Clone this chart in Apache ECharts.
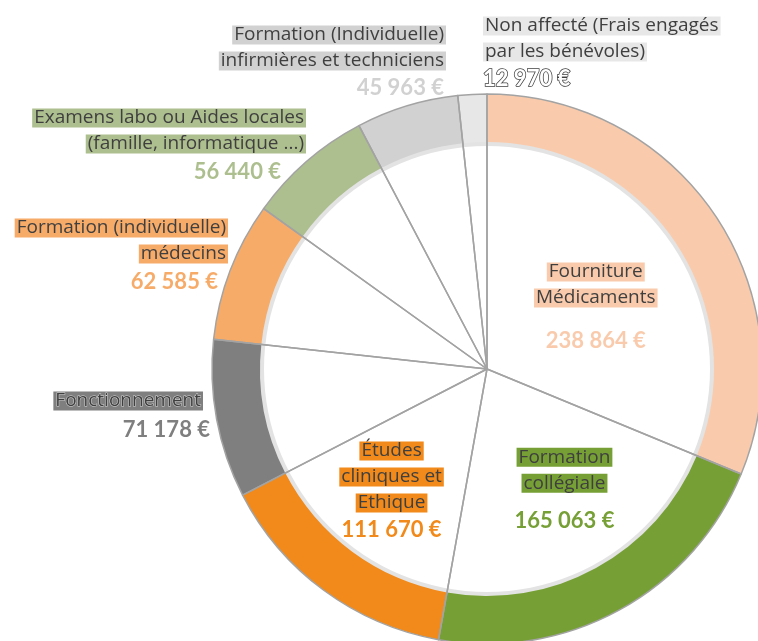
<!DOCTYPE html>
<html>
<head>
<meta charset="utf-8">
<script src="https://cdn.jsdelivr.net/npm/echarts@6/dist/echarts.min.js"></script>
<style>
  html, body { margin: 0; padding: 0; background: #fff; }
  #chart { width: 758px; height: 641px; }
</style>
</head>
<body>
<div id="chart"></div>
<script>
// données du graphique
var categories = [
  'Fourniture\nMédicaments',
  'Formation\ncollégiale',
  'Études\ncliniques et\nEthique',
  'Fonctionnement',
  'Formation (individuelle)\nmédecins',
  'Examens labo ou Aides locales\n(famille, informatique ...)',
  'Formation (Individuelle)\ninfirmières et techniciens',
  'Non affecté (Frais engagés\npar les bénévoles)'
];
var values = [238864, 165063, 111670, 71178, 62585, 56440, 45963, 12970];
var colors = ['#f9cbac', '#76a035', '#f18a1a', '#7f7f7f', '#f7ab69', '#adbf8e', '#d1d1d1', '#e7e7e7'];

// placement des étiquettes : [x, y, align] à l'extérieur, [dx, dy] décalage à l'intérieur
var labelAt = [null, null, null,
  [210, 388, 'right'], [228, 215, 'right'], [306, 105, 'right'],
  [446, 22, 'right'], [483, 13, 'left']];
var innerShift = [[-8, 24], [10, 3], [-12, 9]];
var valueGap = [60, 50, 28, 32, 30, 30, 28, 28];
// >0 : valeur décalée vers la gauche, <0 : texte décalé vers la gauche
var valueShift = [0, 0, 0, -7, 10, 25, 2, 0];

var cx = 487, cy = 369;

function fmt(v) {
  return String(v).replace(/\B(?=(\d{3})+(?!\d))/g, ' ') + ' €';
}

var myChart = echarts.init(document.getElementById('chart'));

var ringData = values.map(function (v, i) {
  return { name: categories[i], value: v, itemStyle: { color: colors[i] } };
});

var overlayData = values.map(function (v, i) {
  var outer = labelAt[i] != null;
  var shift = valueShift[i];
  var t = { fontFamily: 'Open Sans', fontSize: 19, lineHeight: 26, color: '#3f3f3f', backgroundColor: colors[i], padding: [0, 2] };
  var val = { fontFamily: 'Lato', fontSize: 22, fontWeight: 'bold', color: colors[i], lineHeight: valueGap[i], padding: [0, Math.max(shift, 0), 0, 0] };
  var sp = { width: Math.max(-shift, 0), lineHeight: 26 };
  if (i === 3) { t.textBorderColor = '#d8d8d8'; t.textBorderWidth = 1; }
  if (i === 7) { val.color = '#ffffff'; val.textBorderColor = '#3f3f3f'; val.textBorderWidth = 1.5; }
  return {
    name: categories[i],
    value: v,
    label: {
      show: true,
      position: outer ? 'outside' : 'inside',
      align: outer ? labelAt[i][2] : 'center',
      formatter: function () {
        return categories[i].split('\n').map(function (l) {
          return '{t|' + l + '}' + (shift < 0 ? '{s| }' : '');
        }).join('\n') + '\n{v|' + fmt(v) + '}';
      },
      rich: { t: t, v: val, s: sp }
    },
    labelLine: { show: false }
  };
});

var option = {
  backgroundColor: '#fff',
  animation: false,
  series: [
    {   // liseré gris clair à l'intérieur de l'anneau
      type: 'pie', silent: true, center: [cx, cy], radius: [223, 229],
      label: { show: false }, labelLine: { show: false },
      data: [{ value: 1, itemStyle: { color: '#e3e3e3' } }],
      z: 1
    },
    {   // anneau coloré
      type: 'pie', silent: true, center: [cx, cy], radius: [227, 275],
      startAngle: 90, label: { show: false }, labelLine: { show: false },
      data: ringData,
      z: 2
    },
    {   // traits de séparation + étiquettes
      type: 'pie', silent: true, center: [cx, cy], radius: [0, 275],
      startAngle: 90, avoidLabelOverlap: false,
      itemStyle: { color: 'rgba(0,0,0,0)', borderColor: '#a3a3a3', borderWidth: 1.5 },
      labelLayout: function (params) {
        var p = labelAt[params.dataIndex];
        if (!p) {
          var s = innerShift[params.dataIndex];
          return { dx: s[0], dy: s[1] };
        }
        return { x: p[0], y: p[1], align: p[2], verticalAlign: 'top' };
      },
      data: overlayData,
      z: 3
    }
  ]
};
myChart.setOption(option);
</script>
</body>
</html>
